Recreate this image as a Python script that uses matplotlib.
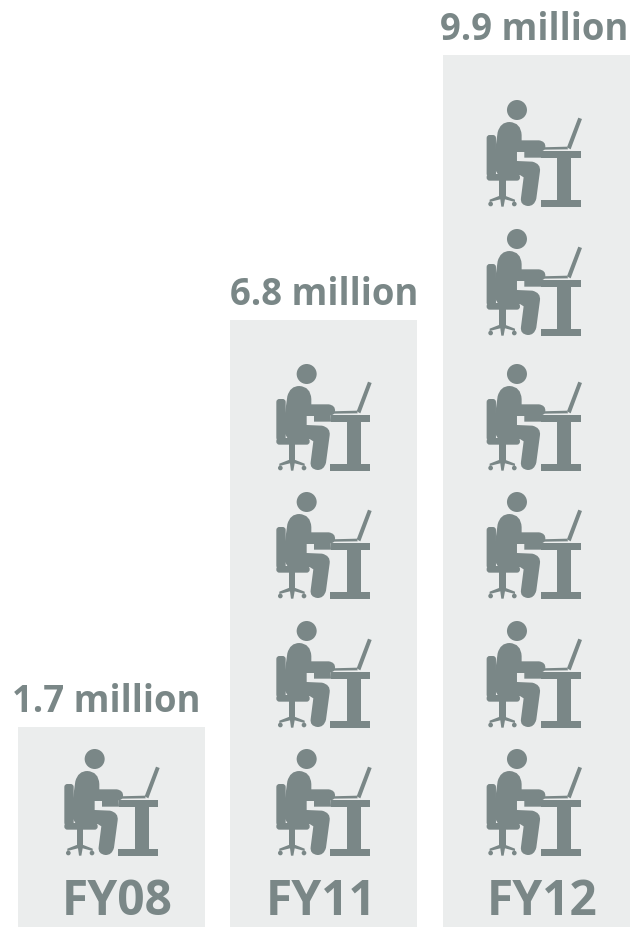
import matplotlib
matplotlib.use('Agg')
import matplotlib.pyplot as plt
from matplotlib.path import Path
from matplotlib.patches import PathPatch, Circle, Rectangle, FancyBboxPatch
from matplotlib.transforms import Affine2D

GREY = '#7a8787'
PANEL = '#ebeded'

years = ['FY08', 'FY11', 'FY12']
labels = ['1.7 million', '6.8 million', '9.9 million']
panel_heights = [200, 607, 872]
icon_counts = [1, 4, 6]
# distance of each icon above the bottom row
row_offsets = [0, 128, 257, 385, 520, 649]

W, H = 641, 928
BAR_CENTERS = [111.5, 323.5, 536]
BAR_W = 187
ICON_LEFT = [50, 262, 472.3]
YEAR_X = [117, 321.5, 542.5]
LABEL_X = [106, 324, 534.5]


def person_parts():
    """Desk worker in local units (3 units = 1 px), y pointing down."""
    M, L, C = Path.MOVETO, Path.LINETO, Path.CURVE3
    body = [
        (M, (76, 127)), (C, (84, 96)), (L, (112, 96)), (C, (146, 98)), (L, (148, 135)),
        (L, (148, 151)), (L, (200, 151)), (C, (221, 154)), (L, (219, 172)),
        (C, (217, 183)), (L, (206, 184)), (L, (207, 203)), (L, (156, 203)), (L, (156, 186)),
        (L, (134, 186)), (L, (134, 213)), (L, (180, 215)), (C, (206, 221)), (L, (203, 244)),
        (L, (192, 326)), (C, (186, 349)), (L, (166, 348)), (C, (143, 345)), (L, (146, 324)),
        (L, (154, 262)), (L, (143, 255)),
        (L, (78, 255)), (L, (62, 228)), (L, (76, 127)),
    ]
    parts = [Path([p for _, p in body], [c for c, _ in body])]
    # laptop screen and keyboard
    parts.append(Path([(284, 172), (318, 83), (329, 87), (295, 178), (284, 172)]))
    parts.append(Path([(208, 172), (285, 170), (287, 178), (214, 179), (208, 172)]))
    # chair star base
    parts.append(Path([(80, 318), (100, 318), (128, 329), (128, 336), (98, 328), (94, 350),
                       (87, 350), (84, 328), (52, 336), (52, 329), (80, 318)]))
    return parts


def draw_person(ax, left, bottom_y):
    # local icon space is mapped into figure pixels, y up
    tr = Affine2D().scale(1 / 3, -1 / 3).translate(left, bottom_y + 188) + ax.transData
    for p in person_parts():
        ax.add_patch(PathPatch(p, fc=GREY, ec='none', transform=tr, zorder=3))
    ax.add_patch(Circle((134, 60), 30, fc=GREY, ec='none', transform=tr, zorder=3))
    rects = [
        (207, 183, 118, 20),   # desk top
        (255, 203, 42, 128),   # desk leg
        (205, 330, 120, 20),   # desk foot
        (80, 270, 20, 50),     # chair post
    ]
    for x, y, w, h in rects:
        ax.add_patch(Rectangle((x, y), w, h, fc=GREY, ec='none', transform=tr, zorder=3))
    # chair back and seat
    for x, y, w, h in [(43, 135, 28, 125), (43, 252, 100, 20)]:
        ax.add_patch(FancyBboxPatch((x + 9, y + 9), w - 18, h - 18, boxstyle='round,pad=9',
                                    fc=GREY, ec='none', transform=tr, zorder=3))
    # wheels
    for x, y, r in [(55, 342, 7), (126, 342, 7)]:
        ax.add_patch(Circle((x, y), r, fc=GREY, ec='none', transform=tr, zorder=3))


fig = plt.figure(figsize=(W / 100, H / 100), dpi=100)
ax = fig.add_axes([0, 0, 1, 1])
ax.set_xlim(0, W)
ax.set_ylim(0, H)
ax.axis('off')

ax.bar(BAR_CENTERS, panel_heights, width=BAR_W, color=PANEL, zorder=1)

for i in range(3):
    for off in row_offsets[:icon_counts[i]]:
        draw_person(ax, ICON_LEFT[i], off)
    ax.text(YEAR_X[i], 13, years[i], ha='center', va='baseline', color=GREY, fontsize=34.5,
            family='Open Sans', fontweight='bold', zorder=4)
    ax.text(LABEL_X[i], panel_heights[i] + 16, labels[i], ha='center', va='baseline', color=GREY,
            fontsize=26.3, family='Open Sans', fontweight='bold', zorder=4)

fig.savefig('out.png', dpi=100)
